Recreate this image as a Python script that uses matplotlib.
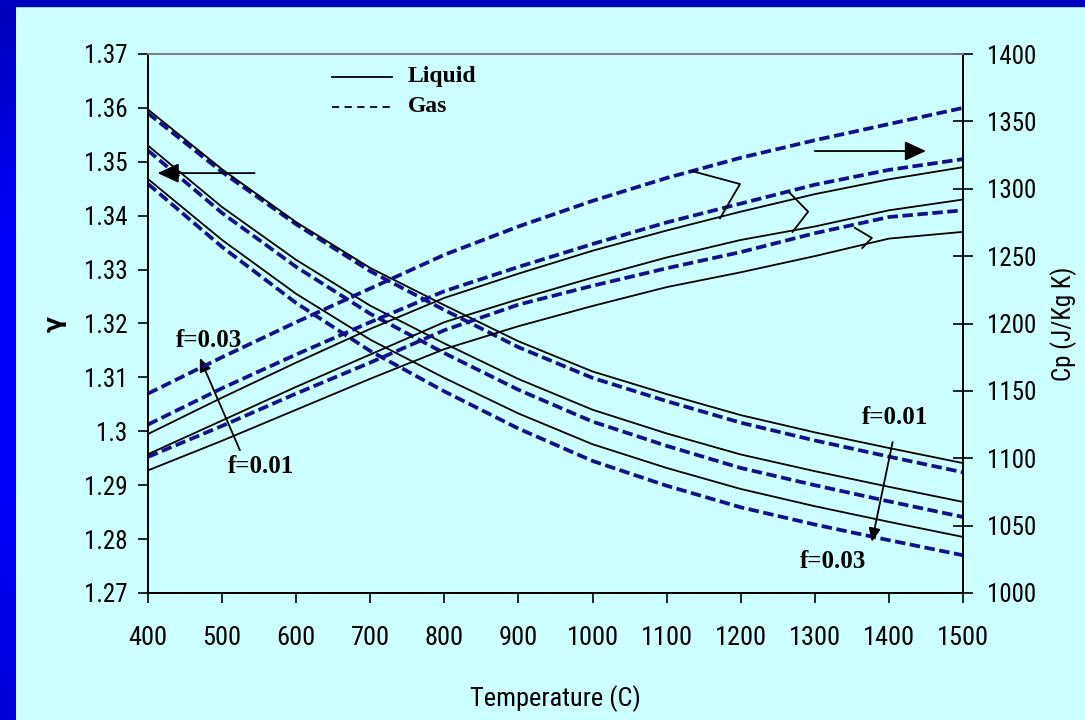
import matplotlib.pyplot as plt
from matplotlib.patches import Rectangle
from matplotlib.lines import Line2D
from matplotlib.ticker import FuncFormatter
from matplotlib import font_manager
from matplotlib.colors import LinearSegmentedColormap
import numpy as np

# dane
temp = [400, 500, 600, 700, 800, 900, 1000, 1100, 1200, 1300, 1400, 1500]

# gamma (lewa os)
gamma_liq_f01 = [1.3597, 1.3486, 1.3388, 1.3303, 1.3234, 1.3167, 1.3111, 1.3069, 1.3030, 1.2998, 1.2969, 1.2941]
gamma_liq_f02 = [1.3530, 1.3416, 1.3318, 1.3233, 1.3163, 1.3097, 1.3040, 1.2996, 1.2957, 1.2926, 1.2897, 1.2869]
gamma_liq_f03 = [1.3468, 1.3355, 1.3255, 1.3170, 1.3099, 1.3033, 1.2976, 1.2932, 1.2893, 1.2861, 1.2832, 1.2804]
gamma_gas_f01 = [1.3590, 1.3481, 1.3384, 1.3297, 1.3225, 1.3156, 1.3099, 1.3056, 1.3016, 1.2983, 1.2953, 1.2924]
gamma_gas_f02 = [1.3521, 1.3405, 1.3305, 1.3218, 1.3145, 1.3077, 1.3018, 1.2973, 1.2932, 1.2900, 1.2870, 1.2841]
gamma_gas_f03 = [1.3459, 1.3342, 1.3238, 1.3149, 1.3074, 1.3005, 1.2945, 1.2899, 1.2859, 1.2827, 1.2798, 1.2770]

# Cp (prawa os)
cp_liq_f01 = [1091, 1113, 1136, 1159, 1181, 1198, 1213, 1227, 1238, 1250, 1263, 1268]
cp_liq_f02 = [1103, 1128, 1153, 1177, 1201, 1218, 1234, 1249, 1262, 1272, 1284, 1292]
cp_liq_f03 = [1118, 1145, 1171, 1196, 1219, 1237, 1254, 1269, 1283, 1296, 1307, 1316]
cp_gas_f01 = [1101, 1124, 1148, 1171, 1195, 1214, 1228, 1241, 1253, 1267, 1279, 1284]
cp_gas_f02 = [1125, 1152, 1177, 1201, 1224, 1242, 1259, 1275, 1289, 1303, 1314, 1322]
cp_gas_f03 = [1148, 1175, 1201, 1226, 1251, 1272, 1291, 1308, 1323, 1336, 1348, 1360]

gamma_liq = [gamma_liq_f01, gamma_liq_f02, gamma_liq_f03]
gamma_gas = [gamma_gas_f01, gamma_gas_f02, gamma_gas_f03]
cp_liq = [cp_liq_f01, cp_liq_f02, cp_liq_f03]
cp_gas = [cp_gas_f01, cp_gas_f02, cp_gas_f03]

# zygzaki (pozostalosci po etykietach) w ukladzie (T, Cp)
zigzags = [
    ([1135, 1199, 1172], [1313, 1303.5, 1278]),
    ([1266, 1291, 1270], [1297, 1283, 1268]),
    ([1354, 1377, 1364], [1271, 1263.5, 1256]),
]

bg = "#CCFFFF"
gas_col = "#10108A"
serif = ["Liberation Serif", "DejaVu Serif"]


# szukamy waskiej czcionki (Arial Narrow w oryginale)
def find_narrow():
    prefs = ["LiberationSansNarrow-Regular", "ArialNarrow", "RobotoCondensed-Regular",
             "DejaVuSansCondensed.ttf", "NotoSans-Condensed", "OpenSans_Condensed-Regular"]
    files = [f.fname for f in font_manager.fontManager.ttflist]
    for p in prefs:
        for f in files:
            if p.lower() in f.lower():
                return f
    for f in font_manager.fontManager.ttflist:
        n = (f.fname + f.name).lower()
        if ("narrow" in n or "condensed" in n) and f.weight in (400, "normal", "regular") \
                and f.style == "normal" and "bold" not in n and "semi" not in n:
            return f.fname
    return None


narrow_file = find_narrow()


def nfont(size):
    if narrow_file:
        return font_manager.FontProperties(fname=narrow_file, size=size)
    return font_manager.FontProperties(family="DejaVu Sans", size=size * 0.85)


fig = plt.figure(figsize=(10.85, 7.2), dpi=100, facecolor=bg)

# niebieska ramka
frame = fig.add_axes([0, 0, 15 / 1085, 1])
grad = np.linspace(0, 1, 256).reshape(-1, 1)
cmap = LinearSegmentedColormap.from_list("b", [(0, 0, 0.72), (0, 0, 1.0), (0, 0, 1.0), (0, 0, 0.85)])
frame.imshow(grad, aspect="auto", cmap=cmap, extent=[0, 1, 0, 1])
frame.axis("off")
fig.patches.append(Rectangle((0, 1 - 6 / 720), 1, 6 / 720, transform=fig.transFigure,
                             color="#0000C0", zorder=5))

ax = fig.add_axes([148 / 1085, 127 / 720, 815 / 1085, 539 / 720])
ax.set_facecolor(bg)
ax2 = ax.twinx()

for y in gamma_liq:
    ax.plot(temp, y, color="black", lw=1.3, zorder=3)
for y in gamma_gas:
    ax.plot(temp, y, color=gas_col, lw=2.7, dashes=(2.8, 1.2), zorder=2)
for y in cp_liq:
    ax2.plot(temp, y, color="black", lw=1.3, zorder=3)
for y in cp_gas:
    ax2.plot(temp, y, color=gas_col, lw=2.7, dashes=(2.8, 1.2), zorder=2)

for xs, ys in zigzags:
    ax2.plot(xs, ys, color="black", lw=1.3)

ax.set_xlim(400, 1500)
ax.set_ylim(1.27, 1.37)
ax2.set_ylim(1000, 1400)
ax.set_xticks(temp)
ax.set_yticks(np.arange(1.27, 1.3701, 0.01))
ax.yaxis.set_major_formatter(FuncFormatter(lambda v, p: f"{v:g}"))
ax2.set_yticks(np.arange(1000, 1401, 50))

for a in (ax, ax2):
    for s in a.spines.values():
        s.set_linewidth(1.3)
    a.spines["top"].set_color("#808080")

ax.tick_params(axis="x", direction="out", length=7, width=1.2, pad=17)
ax.tick_params(axis="y", direction="out", length=7, width=1.2, pad=8)
ax2.tick_params(axis="y", direction="inout", length=14, width=1.2, pad=10)
fig.canvas.draw()
for lab in ax.get_xticklabels():
    lab.set_fontproperties(nfont(19))
for lab in ax.get_yticklabels() + ax2.get_yticklabels():
    lab.set_fontproperties(nfont(18))

ax.set_xlabel("Temperature (C)", fontproperties=nfont(19), labelpad=25)
ax.set_ylabel("γ", family=["DejaVu Sans"], fontsize=17, fontweight="bold", labelpad=12)
ax2.set_ylabel("Cp (J/Kg K)", fontproperties=nfont(18), labelpad=10)

# legenda
ax.add_line(Line2D([0.226, 0.299], [0.958, 0.958], transform=ax.transAxes, color="black", lw=1.3))
ax.add_line(Line2D([0.226, 0.299], [0.902, 0.902], transform=ax.transAxes, color="black", lw=1.3,
                   dashes=(4, 3)))
ax.text(0.319, 0.958, "Liquid", transform=ax.transAxes, family=serif, fontweight="bold",
        fontsize=17, va="center")
ax.text(0.319, 0.902, "Gas", transform=ax.transAxes, family=serif, fontweight="bold",
        fontsize=17, va="center")

# strzalki
arrow = dict(arrowstyle="-|>,head_length=1.3,head_width=0.6", color="black", lw=1.3,
             shrinkA=0, shrinkB=0)
ax.annotate("", xy=(413, 1.3479), xytext=(544, 1.3479), arrowprops=arrow)
ax2.annotate("", xy=(1450, 1328), xytext=(1300, 1328), arrowprops=arrow)
small = dict(arrowstyle="-|>,head_length=0.8,head_width=0.35", color="black", lw=1.3,
             shrinkA=0, shrinkB=0)
ax.annotate("", xy=(470, 1.3136), xytext=(524, 1.2965), arrowprops=small)
ax.annotate("", xy=(1377, 1.2795), xytext=(1405, 1.2980), arrowprops=small)

fkw = dict(family=serif, fontweight="bold", fontsize=18, ha="center", va="center")
ax.text(482, 1.3169, "f=0.03", **fkw)
ax.text(552, 1.2934, "f=0.01", **fkw)
ax.text(1408, 1.3025, "f=0.01", **fkw)
ax.text(1324, 1.2758, "f=0.03", **fkw)

fig.savefig("out.png", dpi=100, facecolor=bg)
